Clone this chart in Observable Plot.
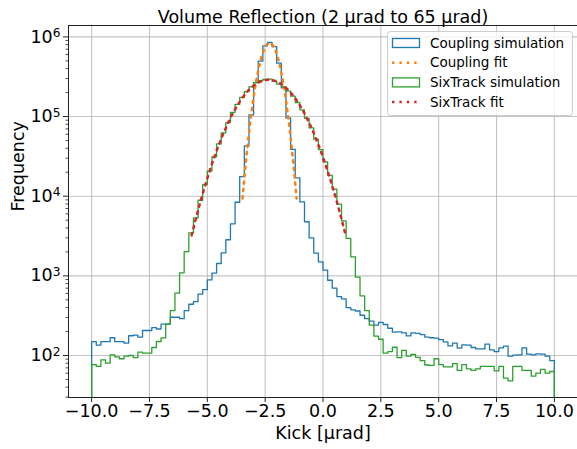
<!DOCTYPE html>
<html>
<head>
<meta charset="utf-8">
<script src="https://cdn.jsdelivr.net/npm/d3@7"></script>
<script src="https://cdn.jsdelivr.net/npm/@observablehq/plot@0.6"></script>
<style>
  html, body { margin: 0; padding: 0; background: #fff; }
  #chart svg { display: block; }
</style>
</head>
<body>
<div id="chart"></div>
<script>
// ---------------- data ----------------
const title = "Volume Reflection (2 µrad to 65 µrad)";
const xLabel = "Kick [µrad]";
const yLabel = "Frequency";

// histogram definition: 100 bins between -10 and 10
const binRange = [-10, 10];

// Coupling simulation counts per bin
const couplingCounts = [
  149, 135, 149, 149, 167, 149, 149, 143, 177, 180,
  170, 206, 206, 224, 215, 247, 247, 302, 302, 290,
  367, 440, 476, 590, 670, 890, 1080, 1430, 1946, 2840,
  4500, 8400, 17600, 42800, 105000, 266000, 495000, 770000, 850000, 754000,
  468000, 229000, 96000, 38800, 17000, 8470, 4780, 3000, 1930, 1500,
  1180, 880, 700, 550, 515, 400, 375, 362, 320, 290,
  270, 240, 260, 245, 220, 196, 198, 192, 176, 192,
  190, 183, 170, 167, 165, 158, 148, 132, 143, 124,
  136, 135, 126, 121, 121, 139, 118, 112, 125, 131,
  98, 101, 102, 125, 104, 102, 105, 104, 98, 86
];

// SixTrack simulation counts per bin
const sixtrackCounts = [
  77, 73, 88, 80, 102, 96, 91, 98, 100, 94,
  110, 107, 107, 126, 150, 166, 247, 367, 608, 1090,
  2010, 3470, 5330, 8900, 14000, 20700, 31300, 45300, 62400, 84000,
  113000, 142000, 174000, 205000, 236000, 267000, 282000, 292000, 295000, 277000,
  256000, 235000, 209000, 180000, 150000, 121000, 95000, 72000, 52000, 38500,
  27000, 18300, 12300, 7950, 4900, 2950, 1730, 962, 560, 367,
  240, 175, 160, 107, 112, 127, 94, 116, 98, 103,
  95, 86, 76, 75, 91, 77, 72, 72, 79, 65,
  77, 68, 65, 68, 73, 73, 73, 64, 73, 52,
  48, 73, 73, 65, 65, 55, 60, 67, 60, 63
];

// Coupling fit
const couplingFitX = [-3.48, -3.363, -3.246, -3.129, -3.012, -2.895, -2.778, -2.661, -2.544, -2.427, -2.31,
  -2.193, -2.076, -1.959, -1.842, -1.725, -1.608, -1.491, -1.374, -1.257, -1.14];
const couplingFitY = [9330, 21940, 47150, 92640, 166200, 272700, 408900, 560300, 701700, 803000, 840000,
  803000, 701700, 560300, 408900, 272700, 166200, 92640, 47150, 21940, 9330];

// SixTrack fit
const sixtrackFitX = [-5.68, -5.458, -5.236, -5.014, -4.792, -4.57, -4.348, -4.126, -3.904, -3.682, -3.46,
  -3.238, -3.016, -2.794, -2.572, -2.35, -2.128, -1.906, -1.684, -1.462, -1.24,
  -1.018, -0.796, -0.574, -0.352, -0.13, 0.092, 0.314, 0.536, 0.758, 0.98];
const sixtrackFitY = [3222, 5754, 9875, 16280, 25790, 39250, 57390, 80620, 108800, 141200, 175900,
  210600, 242200, 267700, 284300, 290000, 284300, 267700, 242200, 210600, 175900,
  141200, 108800, 80620, 57390, 39250, 25790, 16280, 9875, 5754, 3222];

const xTicks = [-10, -7.5, -5, -2.5, 0, 2.5, 5, 7.5, 10];
const yTicks = [1e2, 1e3, 1e4, 1e5, 1e6];
const yMinorTicks = [30, 40, 50, 60, 70, 80, 90,
  200, 300, 400, 500, 600, 700, 800, 900,
  2000, 3000, 4000, 5000, 6000, 7000, 8000, 9000,
  20000, 30000, 40000, 50000, 60000, 70000, 80000, 90000,
  200000, 300000, 400000, 500000, 600000, 700000, 800000, 900000];

const seriesNames = ["Coupling simulation", "Coupling fit", "SixTrack simulation", "SixTrack fit"];
const seriesColors = ["#1f77b4", "#ff7f0e", "#2ca02c", "#d62728"];
const seriesKinds = ["hist", "fit", "hist", "fit"];

// ---------------- build ----------------
const xDomain = [-11, 11];
const yDomain = [29.7, 1.39e6];

function stepPoints(counts) {
  const w = (binRange[1] - binRange[0]) / counts.length;
  const pts = [{x: binRange[0], y: yDomain[0]}];
  counts.forEach((c, i) => pts.push({x: binRange[0] + i * w, y: c}));
  pts.push({x: binRange[1], y: counts[counts.length - 1]});
  pts.push({x: binRange[1], y: yDomain[0]});
  return pts;
}
function fitPoints(xs, ys) { return xs.map((x, i) => ({x, y: ys[i]})); }

const dash = "2.4,5";
const gridStyle = {stroke: "#b0b0b0", strokeOpacity: 0.75, strokeWidth: 1.1};

const chart = Plot.plot({
  width: 577,
  height: 449,
  marginLeft: 68,
  marginRight: 0,
  marginTop: 25,
  marginBottom: 52,
  style: {fontFamily: "DejaVu Sans", fontSize: "17.5px", background: "white", color: "black"},
  x: {domain: xDomain},
  y: {type: "log", domain: yDomain},
  marks: [
    Plot.gridX(xTicks, gridStyle),
    Plot.gridY(yTicks, gridStyle),
    Plot.line(stepPoints(couplingCounts), {x: "x", y: "y", curve: "step-after", stroke: seriesColors[0], strokeWidth: 1.3, clip: true}),
    Plot.line(fitPoints(couplingFitX, couplingFitY), {x: "x", y: "y", stroke: seriesColors[1], strokeWidth: 2.5, strokeDasharray: dash, clip: true}),
    Plot.line(stepPoints(sixtrackCounts), {x: "x", y: "y", curve: "step-after", stroke: seriesColors[2], strokeWidth: 1.3, clip: true}),
    Plot.line(fitPoints(sixtrackFitX, sixtrackFitY), {x: "x", y: "y", stroke: seriesColors[3], strokeWidth: 2.5, strokeDasharray: dash, clip: true}),
    Plot.ruleX([xDomain[0]], {stroke: "#222", strokeWidth: 1}),
    Plot.ruleY([yDomain[0], yDomain[1]], {stroke: "#222", strokeWidth: 1}),
    Plot.axisX(xTicks, {tickSize: 5, tickPadding: 2, label: null, stroke: "#222",
      tickFormat: d => d.toFixed(1).replace("-", "\u2212")}),
    Plot.axisY(yTicks, {tickSize: 5, tickPadding: 3, label: null, stroke: "#222",
      tickFormat: d => String(Math.round(Math.log10(d)))}),
    Plot.axisY(yMinorTicks, {tickSize: 2.5, label: null, stroke: "#222", strokeWidth: 0.8, tickFormat: () => ""}),
    Plot.text([title], {frameAnchor: "top", dy: -15}),
    Plot.text([xLabel], {frameAnchor: "bottom", dy: 41}),
    Plot.text([yLabel], {frameAnchor: "left", dx: -50, rotate: -90})
  ]
});

document.getElementById("chart").appendChild(chart);

const svg = d3.select(chart);

// matplotlib-style 10^n labels
svg.selectAll('g[aria-label="y-axis tick label"] text').each(function() {
  const e = this.textContent;
  if (!e) return;
  const t = d3.select(this);
  t.text("");
  t.append("tspan").text("10");
  t.append("tspan").attr("dy", "-0.45em").attr("font-size", "0.7em").text(e);
});

// legend
const lg = svg.append("g").attr("font-family", "DejaVu Sans").attr("font-size", "13.5px").attr("text-anchor", "start");
lg.append("rect")
  .attr("x", 387.5).attr("y", 31.5).attr("width", 185).attr("height", 84).attr("rx", 3)
  .attr("fill", "white").attr("fill-opacity", 0.8).attr("stroke", "#cccccc");
seriesNames.forEach((name, i) => {
  const cy = 43 + i * 19.7;
  if (seriesKinds[i] === "hist") {
    lg.append("rect").attr("x", 392.5).attr("y", cy - 4.5).attr("width", 27).attr("height", 9)
      .attr("fill", "none").attr("stroke", seriesColors[i]).attr("stroke-width", 1.3);
  } else {
    lg.append("line").attr("x1", 392).attr("x2", 420).attr("y1", cy).attr("y2", cy)
      .attr("stroke", seriesColors[i]).attr("stroke-width", 2.5).attr("stroke-dasharray", dash);
  }
  lg.append("text").attr("x", 430).attr("y", cy).attr("dy", "0.35em").attr("fill", "black")
    .attr("text-anchor", "start").text(name);
});
</script>
</body>
</html>
